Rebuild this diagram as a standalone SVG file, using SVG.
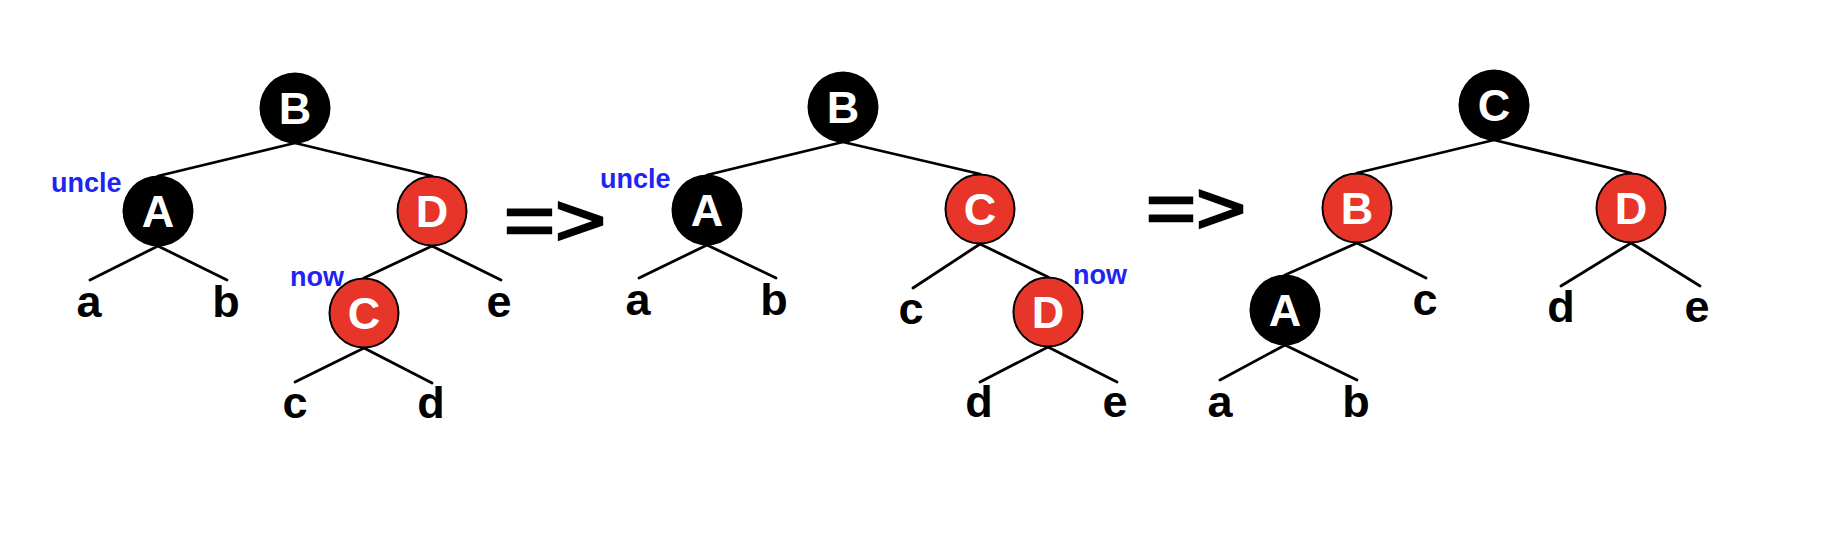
<svg xmlns="http://www.w3.org/2000/svg" width="1836" height="556" viewBox="0 0 1836 556">
<style>
.e{stroke:#000;stroke-width:2.8;fill:none;stroke-linecap:round}
.blk{fill:#000}
.red{fill:#e8352a;stroke:#000;stroke-width:2}
.nl{font-family:"Liberation Sans",Arial,sans-serif;font-weight:bold;font-size:45px;fill:#fff;text-anchor:middle}
.lf{font-family:"Liberation Sans",Arial,sans-serif;font-weight:bold;font-size:45px;fill:#000;text-anchor:middle}
.tag{font-family:"Liberation Sans",Arial,sans-serif;font-weight:bold;font-size:27px;fill:#1f24f2}
.arr{font-family:"Liberation Sans",Arial,sans-serif;font-weight:normal;font-size:72px;fill:#000;stroke:#000;stroke-width:2.4;stroke-linejoin:miter}
</style>
<rect width="1836" height="556" fill="#fff"/>
<g id="connectors">
<line class="e" x1="295" y1="143" x2="158" y2="176"/>
<line class="e" x1="295" y1="143" x2="432" y2="176"/>
<line class="e" x1="158" y1="246" x2="90" y2="280"/>
<line class="e" x1="158" y1="246" x2="227" y2="280"/>
<line class="e" x1="432" y1="246" x2="364" y2="278"/>
<line class="e" x1="432" y1="246" x2="501" y2="280"/>
<line class="e" x1="364" y1="348" x2="295" y2="382"/>
<line class="e" x1="364" y1="348" x2="432" y2="383"/>
<line class="e" x1="843" y1="142" x2="707" y2="175"/>
<line class="e" x1="843" y1="142" x2="980" y2="174"/>
<line class="e" x1="707" y1="245" x2="639" y2="278"/>
<line class="e" x1="707" y1="245" x2="776" y2="278"/>
<line class="e" x1="980" y1="244" x2="913" y2="288"/>
<line class="e" x1="980" y1="244" x2="1048" y2="277"/>
<line class="e" x1="1048" y1="347" x2="980" y2="382"/>
<line class="e" x1="1048" y1="347" x2="1117" y2="382"/>
<line class="e" x1="1494" y1="140" x2="1357" y2="173"/>
<line class="e" x1="1494" y1="140" x2="1631" y2="173"/>
<line class="e" x1="1357" y1="243" x2="1285" y2="275"/>
<line class="e" x1="1357" y1="243" x2="1426" y2="278"/>
<line class="e" x1="1631" y1="243" x2="1561" y2="286"/>
<line class="e" x1="1631" y1="243" x2="1700" y2="286"/>
<line class="e" x1="1285" y1="345" x2="1220" y2="380"/>
<line class="e" x1="1285" y1="345" x2="1357" y2="380"/>
</g>
<g id="t1-B"><circle class="blk" cx="295" cy="108" r="35.5"/><text class="nl" x="295" y="124">B</text></g>
<g id="t1-A"><circle class="blk" cx="158" cy="211" r="35.5"/><text class="nl" x="158" y="227">A</text></g>
<g id="t1-D"><circle class="red" cx="432" cy="211" r="34.5"/><text class="nl" x="432" y="227">D</text></g>
<g id="t1-C"><circle class="red" cx="364" cy="313" r="34.5"/><text class="nl" x="364" y="329">C</text></g>
<g id="t1-labels">
<text class="tag" x="51" y="192">uncle</text>
<text class="tag" x="290" y="286">now</text>
<text class="lf" x="89" y="317">a</text>
<text class="lf" x="226" y="317">b</text>
<text class="lf" x="499" y="317">e</text>
<text class="lf" x="295" y="418">c</text>
<text class="lf" x="431" y="418">d</text>
</g>
<g id="arrow1"><text class="arr" x="504" y="245" textLength="102" lengthAdjust="spacingAndGlyphs">=&gt;</text></g>
<g id="t2-B"><circle class="blk" cx="843" cy="107" r="35.5"/><text class="nl" x="843" y="123">B</text></g>
<g id="t2-A"><circle class="blk" cx="707" cy="210" r="35.5"/><text class="nl" x="707" y="226">A</text></g>
<g id="t2-C"><circle class="red" cx="980" cy="209" r="34.5"/><text class="nl" x="980" y="225">C</text></g>
<g id="t2-D"><circle class="red" cx="1048" cy="312" r="34.5"/><text class="nl" x="1048" y="328">D</text></g>
<g id="t2-labels">
<text class="tag" x="600" y="188">uncle</text>
<text class="tag" x="1073" y="284">now</text>
<text class="lf" x="638" y="315">a</text>
<text class="lf" x="774" y="315">b</text>
<text class="lf" x="911" y="324">c</text>
<text class="lf" x="979" y="417">d</text>
<text class="lf" x="1115" y="417">e</text>
</g>
<g id="arrow2"><text class="arr" x="1146" y="233" textLength="100" lengthAdjust="spacingAndGlyphs">=&gt;</text></g>
<g id="t3-C"><circle class="blk" cx="1494" cy="105" r="35.5"/><text class="nl" x="1494" y="121">C</text></g>
<g id="t3-B"><circle class="red" cx="1357" cy="208" r="34.5"/><text class="nl" x="1357" y="224">B</text></g>
<g id="t3-D"><circle class="red" cx="1631" cy="208" r="34.5"/><text class="nl" x="1631" y="224">D</text></g>
<g id="t3-A"><circle class="blk" cx="1285" cy="310" r="35.5"/><text class="nl" x="1285" y="326">A</text></g>
<g id="t3-labels">
<text class="lf" x="1425" y="315">c</text>
<text class="lf" x="1561" y="322">d</text>
<text class="lf" x="1697" y="322">e</text>
<text class="lf" x="1220" y="417">a</text>
<text class="lf" x="1356" y="417">b</text>
</g>
</svg>
